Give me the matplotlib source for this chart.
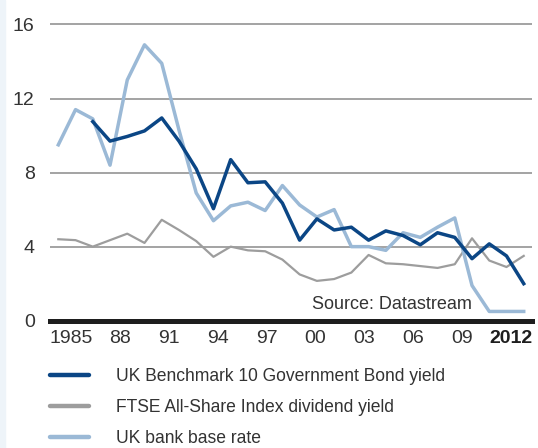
import numpy as np
import matplotlib
matplotlib.use('Agg')
import matplotlib.pyplot as plt
from matplotlib.patches import Rectangle

years = list(range(1985, 2013))

# UK bank base rate, 1985-2012
base_rate = [9.5, 11.4, 10.9, 8.4, 13.0, 14.9, 13.9, 10.3, 6.9, 5.4, 6.2, 6.4, 5.95, 7.3,
             6.25, 5.6, 6.0, 4.0, 4.0, 3.8, 4.75, 4.5, 5.05, 5.55, 1.9, 0.5, 0.5, 0.5]
# UK Benchmark 10 Government Bond yield, 1987-2012
bond_years = list(range(1987, 2013))
bond_yield = [10.75, 9.7, 9.95, 10.25, 10.95, 9.7, 8.2, 6.05, 8.7, 7.45, 7.5, 6.35,
              4.35, 5.5, 4.9, 5.05, 4.35, 4.85, 4.6, 4.1, 4.75, 4.5, 3.35, 4.15, 3.5, 2.0]
# FTSE All-Share Index dividend yield, 1985-2012
div_yield = [4.4, 4.35, 4.0, 4.35, 4.7, 4.2, 5.45, 4.9, 4.3, 3.45, 4.0, 3.8, 3.75, 3.3,
             2.5, 2.15, 2.25, 2.6, 3.55, 3.1, 3.05, 2.95, 2.85, 3.05, 4.45, 3.25, 2.9, 3.5]

xtick_labels = ['1985', '88', '91', '94', '97', '00', '03', '06', '09', '2012']
ytick_values = [0, 4, 8, 12, 16]

dark_blue = '#0b4685'
light_blue = '#9bb9d6'
grey = '#9d9d9d'
text_col = '#333333'

plt.rcParams['font.family'] = ['Liberation Sans', 'DejaVu Sans']

fig = plt.figure(figsize=(5.38, 4.48), dpi=100)
fig.patches.append(Rectangle((0, 0), 5 / 538, 1, transform=fig.transFigure,
                             color='#eef4f9', zorder=0))
ax = fig.add_axes([50 / 538, 1 - 320.7 / 448, 482 / 538, 301.8 / 448])

ax.plot(years, div_yield, color=grey, lw=1.6, solid_joinstyle='round', zorder=3)
ax.plot(years, base_rate, color=light_blue, lw=2.5, solid_joinstyle='round', zorder=4)
ax.plot(bond_years, bond_yield, color=dark_blue, lw=2.5, solid_joinstyle='round', zorder=5)

ax.set_xlim(1984.518, 2012.48)
ax.set_ylim(0, 16.3)

for v in ytick_values[1:]:
    ax.axhline(v, color='#8a8a8a', lw=1.1, zorder=1)
ax.axhline(0, color='#1e1e1e', lw=3.6, zorder=6, clip_on=False)

for s in ax.spines.values():
    s.set_visible(False)

ax.set_yticks(ytick_values)
ax.set_yticklabels([str(v) for v in ytick_values])
ax.tick_params(axis='y', length=0, pad=11, labelsize=14, labelcolor=text_col)

tick_pos = np.linspace(1985.74, 2011.25, len(xtick_labels))
ax.set_xticks(tick_pos)
ax.set_xticklabels(xtick_labels)
ax.tick_params(axis='x', length=0, pad=7, labelsize=14, labelcolor=text_col)
ax.get_xticklabels()[-1].set_fontweight('bold')
ax.get_xticklabels()[-1].set_color('#1e1e1e')

ax.text(2009.0, 0.85, 'Source: Datastream', ha='right', va='center',
        fontsize=13, color=text_col)

handles = [plt.Line2D([], [], color=dark_blue, lw=3.2, solid_capstyle='round'),
           plt.Line2D([], [], color=grey, lw=3.2, solid_capstyle='round'),
           plt.Line2D([], [], color=light_blue, lw=3.2, solid_capstyle='round')]
labels = ['UK Benchmark 10 Government Bond yield',
          'FTSE All-Share Index dividend yield',
          'UK bank base rate']
leg = fig.legend(handles, labels, loc='upper left', bbox_to_anchor=(50 / 538, 1 - 368 / 448),
                 frameon=False, fontsize=12.65, handlelength=2.2, handletextpad=1.55,
                 labelspacing=0.8, borderpad=0, borderaxespad=0)
for t in leg.get_texts():
    t.set_color(text_col)

fig.savefig('out.png', dpi=100)
